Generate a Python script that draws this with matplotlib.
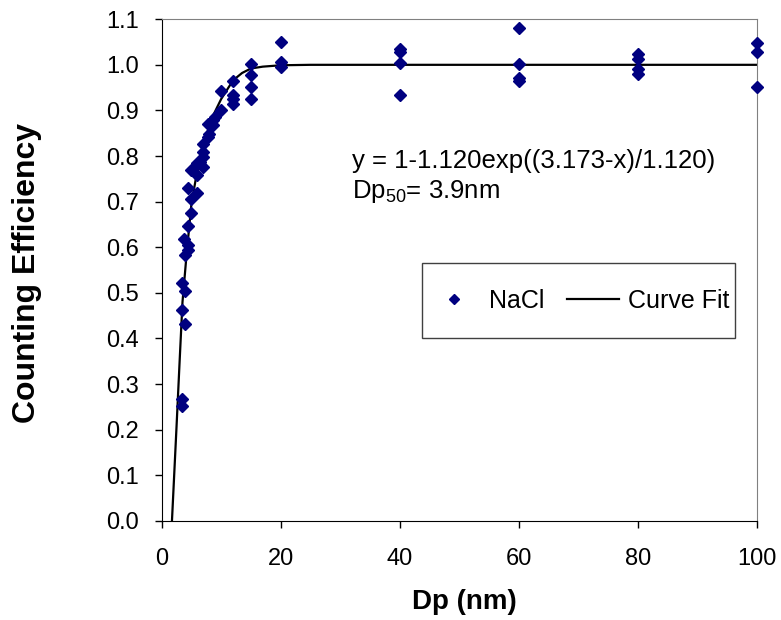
import matplotlib
matplotlib.use("Agg")
import matplotlib.pyplot as plt
from matplotlib.patches import Rectangle

plt.rcParams['font.family'] = ['Liberation Sans', 'DejaVu Sans']
plt.rcParams['mathtext.fontset'] = 'custom'
plt.rcParams['mathtext.rm'] = 'Liberation Sans'
plt.rcParams['mathtext.default'] = 'regular'

# measured NaCl counting efficiencies
nacl_dp = [3.5, 3.5, 3.5, 3.5, 4.0, 4.0, 3.75, 4.0, 4.5, 4.5, 4.5,
           5.0, 5.0, 5.0, 4.5, 6.0, 6.0, 5.9, 6.4, 6.9, 6.9, 6.9, 6.9,
           7.8, 8.0, 7.8, 8.7, 8.7, 9.0, 10, 10, 12, 12, 12, 12,
           15, 15, 15, 15, 20, 20, 20, 40, 40, 40, 40,
           60, 60, 60, 60, 80, 80, 80, 80, 100, 100, 100]
nacl_eff = [0.522, 0.462, 0.268, 0.251, 0.504, 0.431, 0.617, 0.583, 0.604, 0.594, 0.646,
            0.675, 0.705, 0.770, 0.729, 0.719, 0.758, 0.784, 0.787, 0.776, 0.798, 0.809, 0.827,
            0.842, 0.849, 0.871, 0.868, 0.878, 0.886, 0.942, 0.902, 0.965, 0.933, 0.926, 0.915,
            1.001, 0.977, 0.952, 0.926, 1.049, 1.006, 0.995, 1.034, 1.028, 1.004, 0.933,
            1.080, 1.001, 0.972, 0.965, 1.023, 1.012, 0.990, 0.979, 1.047, 1.028, 0.952]

# curve fit as drawn in the original
fit_dp = [1.73, 2.5, 3.0, 3.5, 4.0, 4.2, 5.0, 5.9, 6.7, 7.5, 8.5, 10, 12, 13.5, 15, 17, 20, 25, 100]
fit_eff = [0.0, 0.207, 0.345, 0.48, 0.556, 0.586, 0.695, 0.762, 0.805, 0.845, 0.885,
           0.925, 0.966, 0.982, 0.992, 0.996, 0.999, 1.0, 1.0]

fig = plt.figure(figsize=(7.81, 6.2), dpi=100)
ax = fig.add_axes([0.207, 0.160, 0.762, 0.809])

ax.plot(nacl_dp, nacl_eff, linestyle='none', marker='D', markersize=6.3,
        color='#000080', clip_on=False, zorder=3, label='NaCl')
ax.plot(fit_dp, fit_eff, color='black', linewidth=1.6, zorder=2, label='Curve Fit')

ax.set_xlim(0, 100)
ax.set_ylim(0, 1.1)
ax.set_xticks(range(0, 101, 20))
ax.set_yticks([i / 10 for i in range(12)])
ax.set_yticklabels([f'{i / 10:.1f}' for i in range(12)])
ax.tick_params(direction='out', length=5, width=1, labelsize=17,
               top=False, right=False)
ax.tick_params(axis='x', pad=14.5)
ax.tick_params(axis='y', pad=11.5)

for side in ['left', 'bottom']:
    ax.spines[side].set_color('black')
for side in ['top', 'right']:
    ax.spines[side].set_color('#808080')

# legend box drawn separately so it can be taller than one text row
ax.add_patch(Rectangle((0.437, 0.364), 0.5265, 0.149, transform=ax.transAxes,
                       facecolor='white', edgecolor='#404040', linewidth=1, zorder=4))
leg = ax.legend(loc='center', bbox_to_anchor=(0.700, 0.438), ncol=2, fontsize=18,
                frameon=False, handlelength=2.1, handletextpad=0.35,
                columnspacing=0.9, borderpad=0.25, markerscale=0.8)
leg.set_zorder(5)

fig.text(0.4507, 1 - 168 / 620, 'y = 1-1.120exp((3.173-x)/1.120)', fontsize=18.5,
         ha='left', va='baseline')
fig.text(0.4507, 1 - 198 / 620, 'Dp$_{50}$= 3.9nm', fontsize=18.5,
         ha='left', va='baseline')

fig.text(0.035, 0.56, 'Counting Efficiency', rotation=90, fontsize=23,
         fontweight='bold', ha='center', va='center')
fig.text(0.594, 0.029, 'Dp (nm)', fontsize=20, fontweight='bold',
         ha='center', va='center')

plt.savefig('out.png', dpi=100)
